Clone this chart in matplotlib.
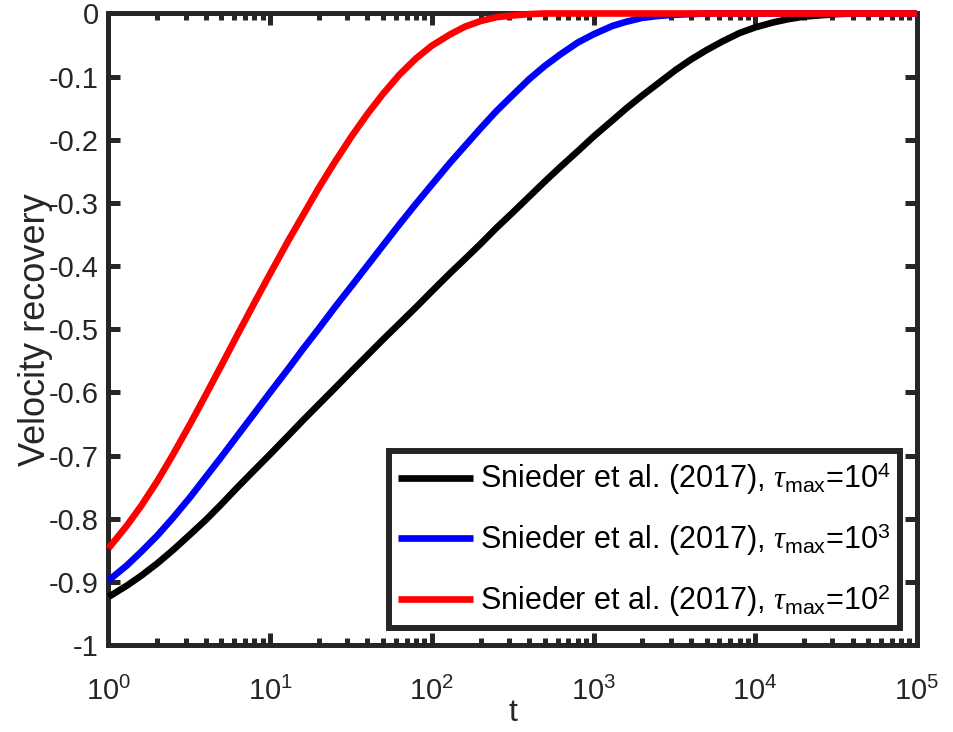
import matplotlib
matplotlib.use('Agg')
import matplotlib.pyplot as plt
from matplotlib.ticker import LogLocator, FixedLocator, FuncFormatter, NullFormatter

plt.rcParams['font.family'] = ['Liberation Sans', 'DejaVu Sans']
plt.rcParams['mathtext.fontset'] = 'custom'
plt.rcParams['mathtext.rm'] = 'Liberation Sans'
plt.rcParams['mathtext.it'] = 'Liberation Serif:italic'
plt.rcParams['mathtext.sf'] = 'Liberation Sans'
plt.rcParams['axes.unicode_minus'] = False

# tiempo (10 puntos por decada) y curvas de recuperacion
t = [1, 1.3, 1.6, 2, 2.5, 3.2, 4, 5, 6.3, 8,
     10, 13, 16, 20, 25, 32, 40, 50, 63, 80,
     100, 130, 160, 200, 250, 320, 400, 500, 630, 800,
     1000, 1300, 1600, 2000, 2500, 3200, 4000, 5000, 6300, 8000,
     1e4, 1.3e4, 1.6e4, 2e4, 2.5e4, 3.2e4, 4e4, 5e4, 6.3e4, 8e4,
     1e5]
rec_1e4 = [-0.924, -0.906, -0.890, -0.871, -0.850, -0.825, -0.802, -0.777, -0.750, -0.723,
           -0.698, -0.668, -0.644, -0.619, -0.594, -0.566, -0.541, -0.516, -0.491, -0.465,
           -0.440, -0.411, -0.389, -0.365, -0.340, -0.314, -0.290, -0.266, -0.242, -0.218,
           -0.195, -0.170, -0.150, -0.130, -0.111, -0.090, -0.073, -0.058, -0.044, -0.031,
           -0.022, -0.014, -0.009, -0.005, -0.003, -0.001, 0.0, 0.0, 0.0, 0.0,
           0.0]
rec_1e3 = [-0.898, -0.874, -0.852, -0.827, -0.799, -0.766, -0.734, -0.702, -0.668, -0.633,
           -0.600, -0.562, -0.531, -0.499, -0.466, -0.431, -0.399, -0.367, -0.334, -0.301,
           -0.271, -0.236, -0.210, -0.182, -0.155, -0.128, -0.104, -0.083, -0.064, -0.046,
           -0.033, -0.020, -0.013, -0.007, -0.004, -0.002, -0.001, 0.0, 0.0, 0.0,
           0.0, 0.0, 0.0, 0.0, 0.0, 0.0, 0.0, 0.0, 0.0, 0.0,
           0.0]
rec_1e2 = [-0.847, -0.811, -0.779, -0.741, -0.699, -0.650, -0.604, -0.557, -0.508, -0.458,
           -0.412, -0.359, -0.319, -0.276, -0.236, -0.194, -0.159, -0.127, -0.097, -0.071,
           -0.051, -0.033, -0.021, -0.012, -0.006, -0.003, -0.001, 0.0, 0.0, 0.0,
           0.0, 0.0, 0.0, 0.0, 0.0, 0.0, 0.0, 0.0, 0.0, 0.0,
           0.0, 0.0, 0.0, 0.0, 0.0, 0.0, 0.0, 0.0, 0.0, 0.0,
           0.0]

series = [
    (rec_1e4, 'k', r'Snieder et al. (2017), $\tau_{\mathsf{max}}$=10$^{\mathsf{4}}$'),
    (rec_1e3, 'b', r'Snieder et al. (2017), $\tau_{\mathsf{max}}$=10$^{\mathsf{3}}$'),
    (rec_1e2, 'r', r'Snieder et al. (2017), $\tau_{\mathsf{max}}$=10$^{\mathsf{2}}$'),
]

gris = '#262626'

fig = plt.figure(figsize=(9.54, 7.32), dpi=100)
ax = fig.add_axes([0.1137, 0.1189, 0.8474, 0.8627])

for y, c, lab in series:
    ax.plot(t, y, color=c, lw=4.8, label=lab, clip_on=False, zorder=3,
            solid_capstyle='butt', solid_joinstyle='round')

ax.set_xscale('log')
ax.set_xlim(1, 1e5)
ax.set_ylim(-1, 0)

ax.xaxis.set_major_locator(LogLocator(base=10, numticks=10))
ax.xaxis.set_minor_locator(LogLocator(base=10, subs=range(2, 10), numticks=20))
ax.xaxis.set_minor_formatter(NullFormatter())
ax.yaxis.set_major_locator(FixedLocator([i / 10 for i in range(-10, 1)]))
ax.yaxis.set_major_formatter(FuncFormatter(lambda v, p: '%g' % round(v, 1)))

for s in ax.spines.values():
    s.set_linewidth(3.6)
    s.set_color(gris)

ax.tick_params(which='both', direction='in', top=True, right=True,
               color=gris, labelcolor=gris, labelsize=21)
ax.tick_params(which='major', length=8.5, width=3.6)
ax.tick_params(axis='y', which='major', pad=7)
ax.tick_params(axis='x', which='major', pad=23)
ax.tick_params(which='minor', length=5, width=3.6)

ax.set_xlabel('t', fontsize=23, color=gris)
ax.xaxis.label.set_va('baseline')
ax.xaxis.set_label_coords(0.5, -0.121)
ax.set_ylabel('Velocity recovery', fontsize=26, color=gris)
ax.yaxis.set_label_coords(-0.068, 0.5)

leg = ax.legend(loc='lower right', bbox_to_anchor=(0.979, 0.027), borderaxespad=0,
                fontsize=22, handlelength=2.45, handletextpad=0.23,
                labelspacing=0.78, borderpad=0.3, fancybox=False, framealpha=1)
leg.get_frame().set_edgecolor(gris)
leg.get_frame().set_linewidth(4.3)
leg.set_zorder(5)

fig.savefig('out.png', dpi=100)
